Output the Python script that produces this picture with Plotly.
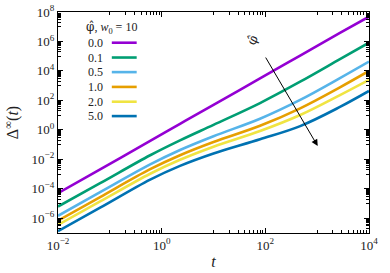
import plotly.graph_objects as go

# ---- data ----
t = [0.01, 0.065, 0.6, 2.26, 10, 79, 470, 2750, 10000]
phi_labels = ["0.0", "0.1", "0.5", "1.0", "2.0", "5.0"]
d_00 = [5.0e-5, 2.09e-3, 0.178, 2.57, 50, 3090, 1.1e5, 3.8e6, 4.8e7]
d_01 = [6.3e-6, 2.4e-4, 0.019, 0.195, 2.2, 66, 1850, 6.3e4, 8.3e5]
d_05 = [1.48e-6, 5.9e-5, 4.5e-3, 0.043, 0.37, 5.7, 108, 3240, 4.3e4]
d_10 = [6.8e-7, 2.75e-5, 2.14e-3, 0.019, 0.15, 1.9, 29, 776, 1.0e4]
d_20 = [3.5e-7, 1.38e-5, 1.05e-3, 9.3e-3, 0.072, 0.83, 10.2, 229, 2500]
d_50 = [1.32e-7, 5.2e-6, 4.2e-4, 3.6e-3, 0.025, 0.23, 1.8, 36, 436]
series = [d_00, d_01, d_05, d_10, d_20, d_50]
colors = ["#9400D3", "#009E73", "#56B4E9", "#E69F00", "#F0E442", "#0072B2"]

x_major = [-2, 0, 2, 4]
y_major = [-6, -4, -2, 0, 2, 4, 6, 8]

def sup(e):
    s = str(e).replace("-", "\u2212")
    return "10<sup>" + s + "</sup>"

FONT = "Liberation Serif"
GREEK = "DejaVu Serif"
PHIHAT = "<span style='font-family:DejaVu Serif'>\u03c6\u0302</span>"

fig = go.Figure()
for name, ys, c in zip(phi_labels, series, colors):
    fig.add_trace(go.Scatter(x=t, y=ys, mode="lines", name=name,
                             line=dict(color=c, width=2.6, shape="spline", smoothing=1.0),
                             showlegend=False))

def minor_vals(lo, hi):
    vals = []
    for e in range(lo, hi, 2):
        for k in range(1, 10):
            vals.append(k * 10.0 ** (e + 1))
    return vals

axis_common = dict(type="log", showgrid=False, zeroline=False, showline=True,
                   linecolor="black", linewidth=1.3, mirror="allticks",
                   ticks="inside", ticklen=5, tickwidth=1.2, tickcolor="black",
                   ticklabeloverflow="allow", automargin=False,
                   tickfont=dict(family=FONT, size=13, color="#222"))

fig.update_xaxes(range=[-2, 4],
                 tickvals=[10.0 ** e for e in x_major], ticktext=[sup(e) for e in x_major],
                 minor=dict(tickvals=minor_vals(-2, 4), ticks="inside", ticklen=2.5,
                            tickwidth=1, tickcolor="black"),
                 title=dict(text="<i>t</i>", font=dict(family=FONT, size=16, color="#222"), standoff=4),
                 **axis_common)
fig.update_yaxes(range=[-7, 8],
                 tickvals=[10.0 ** e for e in y_major], ticktext=[sup(e) for e in y_major],
                 minor=dict(tickvals=minor_vals(-8, 8), ticks="inside", ticklen=2.5,
                            tickwidth=1, tickcolor="black"),
                 title=dict(text="\u0394<sup>\u221e</sup>(<i>t</i>)", font=dict(family=FONT, size=16, color="#222"), standoff=8),
                 **axis_common)

# legend (gnuplot style: label left, sample line right)
leg_y = [0.861, 0.794, 0.728, 0.661, 0.594, 0.529]
for lab, c, yy in zip(phi_labels, colors, leg_y):
    fig.add_annotation(xref="paper", yref="paper", x=0.150, y=yy, text=lab,
                       showarrow=False, xanchor="right", yanchor="middle",
                       font=dict(family=FONT, size=12, color="#222"))
    fig.add_shape(type="line", xref="paper", yref="paper", x0=0.173, x1=0.253,
                  y0=yy, y1=yy, line=dict(color=c, width=2.6))
fig.add_annotation(xref="paper", yref="paper", x=0.084, y=0.928,
                   text=PHIHAT + ", <i>w</i><sub>0</sub> = 10",
                   showarrow=False, xanchor="left", yanchor="middle",
                   font=dict(family=FONT, size=12, color="#222"))

# arrow showing increasing phi-hat
fig.add_annotation(x=3.01, y=-1.10, ax=1.99, ay=5.01, xref="x", yref="y",
                   axref="x", ayref="y", showarrow=True, arrowhead=2,
                   arrowsize=1.3, arrowwidth=1, arrowcolor="black", text="")
fig.add_annotation(x=1.76, y=6.1, xref="x", yref="y", text="\u03c6\u0302",
                   showarrow=False, textangle=-65,
                   font=dict(family=GREEK, size=13, color="#222"))

fig.update_layout(width=390, height=273, margin=dict(l=58, r=21, t=12, b=40),
                  paper_bgcolor="white", plot_bgcolor="white", showlegend=False)

# remove the browser's default 8px body margin so the figure sits at the page corner
fig.write_html("out.html", config={"displayModeBar": False},
               post_script="document.body.style.margin='0';")
